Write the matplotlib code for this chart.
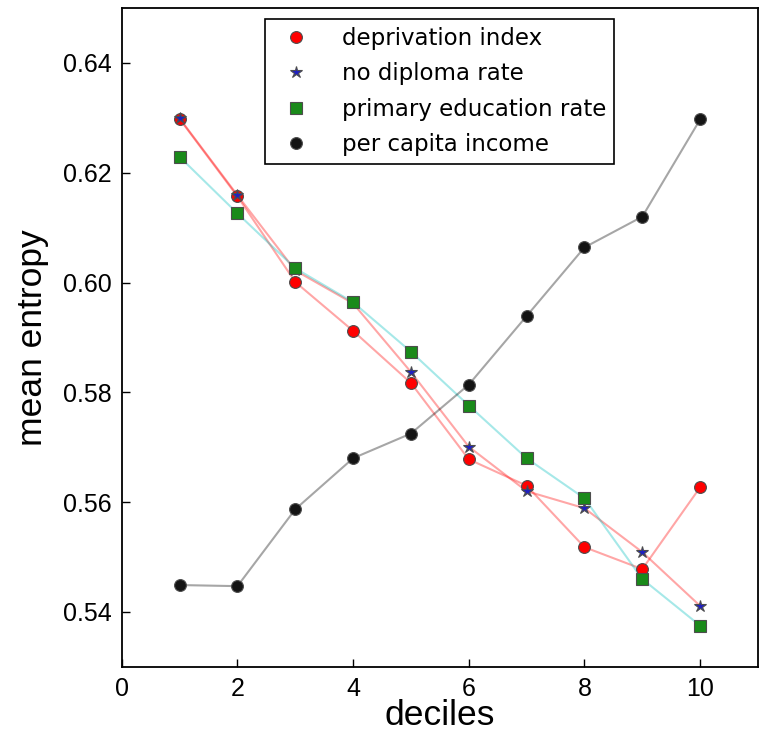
import numpy as np
import matplotlib
matplotlib.use("Agg")
import matplotlib.pyplot as plt

# Deciles and mean entropy per indicator
deciles = [1, 2, 3, 4, 5, 6, 7, 8, 9, 10]
deprivation = [0.6298, 0.6157, 0.6001, 0.5912, 0.5817, 0.5678, 0.5630, 0.5518, 0.5478, 0.5627]
no_diploma = [0.6299, 0.6159, 0.6022, 0.5962, 0.5837, 0.5701, 0.5620, 0.5589, 0.5509, 0.5411]
primary_edu = [0.6229, 0.6126, 0.6026, 0.5964, 0.5874, 0.5776, 0.5680, 0.5607, 0.5460, 0.5375]
income = [0.5449, 0.5447, 0.5587, 0.5680, 0.5725, 0.5814, 0.5939, 0.6064, 0.6120, 0.6297]

series = [
    ("deprivation index", deprivation, "r", "r", "o", 8.5),
    ("no diploma rate", no_diploma, "r", "#2020c0", "*", 9),
    ("primary education rate", primary_edu, "c", "#1a8a1a", "s", 8),
    ("per capita income", income, "k", "#141414", "o", 8.5),
]

fig = plt.figure(figsize=(7.61, 7.32), dpi=100)
ax = fig.add_axes([0.160, 0.089, 0.836, 0.900])

# lines first (faded), markers on top
for name, vals, lc, mc, mk, ms in series:
    ax.plot(deciles, vals, color=lc, alpha=0.35, linewidth=1.5, zorder=1)

for name, vals, lc, mc, mk, ms in series:
    ax.plot(deciles, vals, linestyle="none", marker=mk, markersize=ms,
            markerfacecolor=mc, markeredgecolor="0.3", markeredgewidth=0.8,
            label=name, zorder=3)

ax.set_xlim(0, 11)
ax.set_ylim(0.53, 0.65)
ax.set_xticks([0, 2, 4, 6, 8, 10])
ax.set_yticks([0.54, 0.56, 0.58, 0.60, 0.62, 0.64])
ax.set_yticklabels(["0.54", "0.56", "0.58", "0.60", "0.62", "0.64"])

for lab in ax.get_xticklabels() + ax.get_yticklabels():
    lab.set_fontfamily("Liberation Sans")
    lab.set_fontsize(18)

ax.tick_params(direction="in", length=6, width=1, top=False, right=False, pad=7)
for sp in ax.spines.values():
    sp.set_linewidth(1.3)

ax.set_xlabel("deciles", fontfamily="Liberation Sans", fontsize=25.5, labelpad=-1)
ax.set_ylabel("mean entropy", fontfamily="Liberation Sans", fontsize=25.5, labelpad=10)

leg = ax.legend(loc="upper center", bbox_to_anchor=(0.5, 0.983), borderaxespad=0,
                numpoints=1, fontsize=16.5, fancybox=False, framealpha=1,
                edgecolor="black", handletextpad=1.0, borderpad=0.35,
                labelspacing=0.53)
leg.get_frame().set_linewidth(1.2)

fig.savefig("out.png", dpi=100)
